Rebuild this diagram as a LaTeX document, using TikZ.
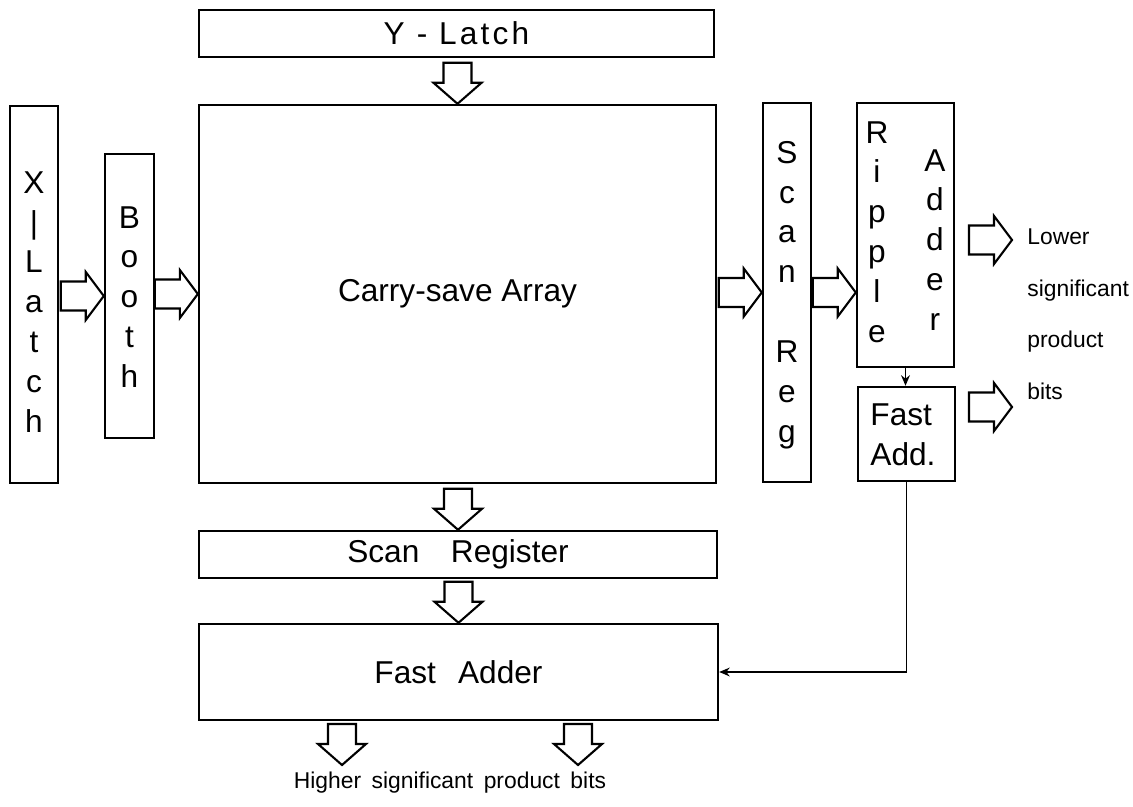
\documentclass[tikz,border=0pt]{standalone}
\usepackage{fontspec}
\setmainfont{Liberation Sans}
\usetikzlibrary{arrows.meta,calc}
\tikzset{
  box/.style={draw, line width=1.4pt, inner sep=0pt, rectangle},
  big/.style={font=\fontsize{18pt}{22.7pt}\selectfont},
  vlabel/.style={big, align=center, inner sep=0pt},
  small/.style={font=\fontsize{13pt}{15pt}\selectfont, inner sep=0pt},
  fat/.style={draw, fill=white, line width=1.2pt, line join=miter},
  link/.style={line width=1.1pt, -{Stealth[length=6pt,width=5pt]}},
}
\newcommand{\blkright}[1]{\draw[fat] (#1) -- ++(-18,-24) -- ++(0,9.5) -- ++(-25,0) -- ++(0,29) -- ++(25,0) -- ++(0,9.5) -- cycle;}
\newcommand{\blkdown}[1]{\draw[fat] (#1) -- ++(-24,-21) -- ++(10,0) -- ++(0,-20) -- ++(28,0) -- ++(0,20) -- ++(10,0) -- cycle;}
\begin{document}
\begin{tikzpicture}[x=0.02cm,y=-0.02cm]
\useasboundingbox (0,0) rectangle (1133,807);
% boxes
\node[box, big, minimum width=10.3cm, minimum height=0.94cm] (ylatch) at (456.5,33.5) {\addfontfeature{LetterSpace=10}Y - Latch};
\node[box, minimum width=0.96cm, minimum height=7.54cm] (xlatch) at (34,294.5) {};
\node[vlabel] (xlatchtext) at (34,302) {X\\|\\L\\a\\t\\c\\h};
\node[box, minimum width=0.98cm, minimum height=5.68cm] (booth) at (129.5,296) {};
\node[vlabel] (boothtext) at (129.5,297) {B\\o\\o\\t\\h};
\node[box, big, minimum width=10.34cm, minimum height=7.56cm] (csa) at (457.5,294) {Carry-save Array};
\node[box, minimum width=0.96cm, minimum height=7.58cm] (scanreg) at (787,292.5) {};
\node[vlabel] (scanregtext) at (787,295) {S\\c\\a\\n\\[22.7pt]R\\e\\g};
\node[box, minimum width=1.94cm, minimum height=5.28cm] (ripple) at (905.5,235) {};
\node[vlabel] (rippletext) at (877,232) {R\\i\\p\\p\\l\\e};
\node[vlabel] (addertext) at (935,240) {A\\d\\d\\e\\r};
\node[box, minimum width=1.94cm, minimum height=1.88cm] (fastadd) at (906.5,434) {};
\node[big, align=left, inner sep=0pt] (fastaddtext) at (903,435) {Fast\\Add.};
\node[box, big, minimum width=10.36cm, minimum height=0.94cm] (scanregister) at (458,554.5) {Scan\hspace{1em}Register};
\node[box, big, minimum width=10.38cm, minimum height=1.92cm] (fastadder) at (458.5,672) {Fast\hspace{0.7em}Adder};
% block arrows
\blkright{booth.west}
\blkright{csa.west}
\blkright{scanreg.west}
\blkright{ripple.west |- scanreg.west}
\coordinate (lowtipA) at (1012,240);
\coordinate (lowtipB) at (1012,407);
\blkright{lowtipA}
\blkright{lowtipB}
\blkdown{csa.north}
\blkdown{scanregister.north}
\blkdown{fastadder.north}
\coordinate (hightipA) at (342,765);
\coordinate (hightipB) at (578,765);
\blkdown{hightipA}
\blkdown{hightipB}
% thin links
\draw[link] (ripple.south) -- (ripple.south |- fastadd.north);
\draw[link] (fastadd.south) |- (fastadder.east);
% output labels
\node[small, anchor=base west] (lowA) at (1027,245) {Lower};
\node[small, anchor=base west] (lowB) at (1027,297) {significant};
\node[small, anchor=base west] (lowC) at (1027,348) {product};
\node[small, anchor=base west] (lowD) at (1027,400) {bits};
\node[small, anchor=base] (high) at (450,788) {Higher\hspace{6pt}significant\hspace{6pt}product\hspace{6pt}bits};
\end{tikzpicture}
\end{document}
